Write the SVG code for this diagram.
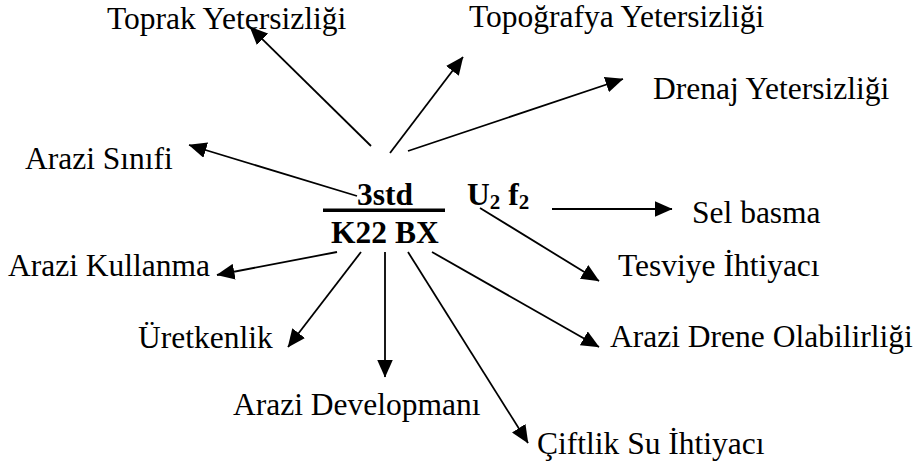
<svg xmlns="http://www.w3.org/2000/svg" width="920" height="467" viewBox="0 0 920 467">
<style>
  .lbl { font-family: "Liberation Serif", "Times New Roman", serif; font-size: 31.5px; fill: #000; }
  .b { font-weight: bold; }
  .sub { font-size: 21px; }
  .con { stroke: #000; stroke-width: 1.8; fill: none; marker-end: url(#ah); }
</style>
<defs>
  <marker id="ah" markerUnits="userSpaceOnUse" markerWidth="18" markerHeight="16" refX="17.5" refY="8" orient="auto">
    <path d="M0,0 L18,8 L0,16 z" fill="#000"/>
  </marker>
</defs>
<rect width="920" height="467" fill="#fff"/>
<g id="connectors">
  <path class="con" d="M371,146 L250,27"/>
  <path class="con" d="M390,153 L463,57"/>
  <path class="con" d="M408,151 L623,79"/>
  <path class="con" d="M357,196 L189,145"/>
  <path class="con" d="M552,209 L672,209"/>
  <path class="con" d="M480,208 L599,281"/>
  <path class="con" d="M337,252 L217,275"/>
  <path class="con" d="M361,252 L288,347"/>
  <path class="con" d="M385,252 L385,377"/>
  <path class="con" d="M408,252 L528,443"/>
  <path class="con" d="M432,252 L599,347"/>
</g>
<g id="center">
  <text class="lbl b" x="357" y="205">3std</text>
  <rect x="323" y="208.5" width="122" height="3.5" fill="#000"/>
  <text class="lbl b" x="331" y="243">K22 BX</text>
</g>
<g id="uf">
  <text class="lbl b" x="467" y="205">U<tspan class="sub" dy="4">2</tspan><tspan dy="-4"> f</tspan><tspan class="sub" dy="4">2</tspan></text>
</g>
<g id="toprak"><text class="lbl" x="107" y="29">Toprak Yetersizliği</text></g>
<g id="topografya"><text class="lbl" x="469" y="27">Topoğrafya Yetersizliği</text></g>
<g id="drenaj"><text class="lbl" x="653" y="99">Drenaj Yetersizliği</text></g>
<g id="sinif"><text class="lbl" x="25" y="169">Arazi Sınıfi</text></g>
<g id="sel"><text class="lbl" x="692" y="223">Sel basma</text></g>
<g id="tesviye"><text class="lbl" x="618" y="276">Tesviye İhtiyacı</text></g>
<g id="kullanma"><text class="lbl" x="8" y="276">Arazi Kullanma</text></g>
<g id="uretkenlik"><text class="lbl" x="138" y="348">Üretkenlik</text></g>
<g id="drene"><text class="lbl" x="610" y="347">Arazi Drene Olabilirliği</text></g>
<g id="developman"><text class="lbl" x="233" y="415">Arazi Developmanı</text></g>
<g id="ciftlik"><text class="lbl" x="537" y="454">Çiftlik Su İhtiyacı</text></g>
</svg>
